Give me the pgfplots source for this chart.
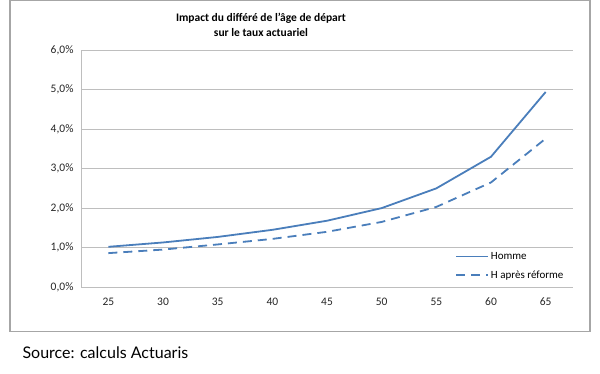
\documentclass[border=0pt]{standalone}
\usepackage{pgfplots}
\pgfplotsset{compat=1.18}
\usepackage{fontspec}
\setmainfont{Carlito}
\newfontfamily\srcfont{Lato}
\definecolor{lineblue}{HTML}{4A7EBB}
\definecolor{gridgrey}{HTML}{BEBEBE}
\definecolor{framegrey}{HTML}{A6A6A6}
\begin{document}
\begin{tikzpicture}[x=1pt,y=1pt]
\path (0,0) rectangle (600,373);
\draw[framegrey, line width=1.2pt] (10,41.5) rectangle (590,372.5);
\node[font=\bfseries\fontsize{11.5}{13}\selectfont, align=center] at (261,348) {Impact du différé de l'âge de départ\\[2pt]sur le taux actuariel};
\node[anchor=west, font=\srcfont\fontsize{16}{18}\selectfont] at (19,20.5) {Source: calculs Actuaris};
\begin{axis}[
  at={(81pt,86pt)}, anchor=south west, scale only axis,
  width=492pt, height=237pt,
  xmin=-0.5, xmax=8.5, ymin=0, ymax=6,
  xtick={0,...,8}, xticklabels={25,30,35,40,45,50,55,60,65},
  ytick={0,1,2,3,4,5,6},
  ymajorgrids, grid style={gridgrey, line width=0.8pt},
  axis x line*=bottom, axis y line*=left,
  axis line style={gridgrey, line width=0.8pt},
  major tick length=0pt,
  /pgf/number format/assume math mode=true,
  tick label style={font=\fontsize{11.5}{13}\selectfont, color=black!85},
  yticklabel={\pgfmathprintnumber[fixed,fixed zerofill,precision=1,use comma]{\tick}\%},
  yticklabel style={xshift=-4pt},
  xticklabel style={yshift=-7pt},
  legend style={at={(0.754,0.165)}, anchor=north west, draw=none, fill=none,
    font=\fontsize{11}{13}\selectfont, row sep=6pt},
  legend cell align=left,
  legend image code/.code={\draw[#1] (0pt,0pt) -- (32pt,0pt);},
]
\addplot[lineblue, line width=1.8pt] coordinates {
 (0,1.02) (1,1.13) (2,1.27) (3,1.45) (4,1.68) (5,2.00) (6,2.50) (7,3.30) (8,4.94)};
\addlegendentry{Homme}
\addplot[lineblue, line width=1.8pt, dash pattern=on 9pt off 6pt] coordinates {
 (0,0.86) (1,0.95) (2,1.08) (3,1.22) (4,1.40) (5,1.65) (6,2.03) (7,2.65) (8,3.76)};
\addlegendentry{H après réforme}
\end{axis}
\end{tikzpicture}
\end{document}
